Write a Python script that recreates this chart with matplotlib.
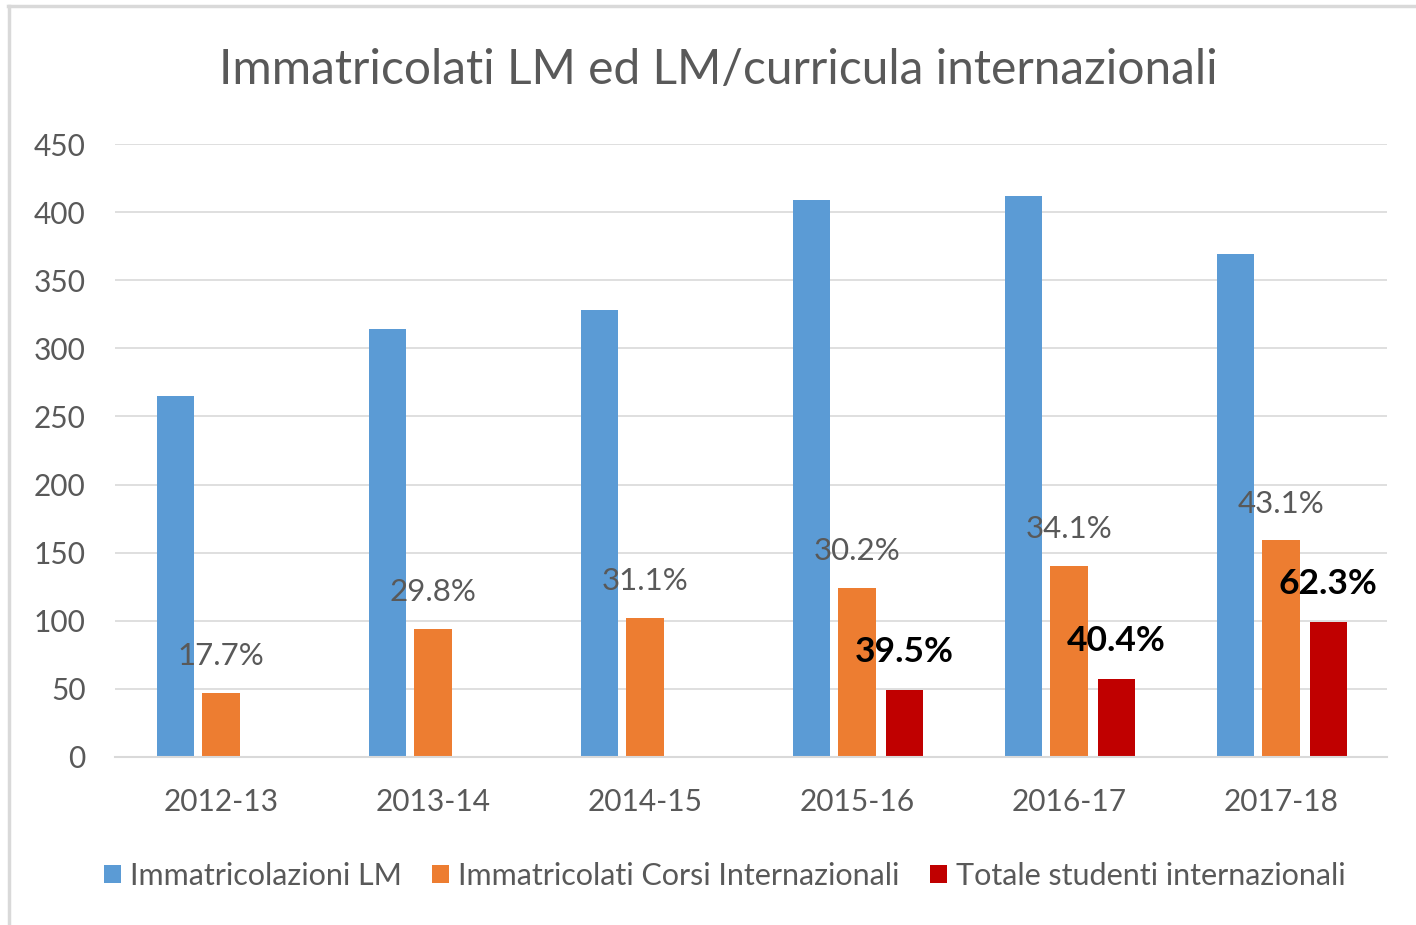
import matplotlib
matplotlib.use("Agg")
import matplotlib.pyplot as plt
from matplotlib.lines import Line2D
import numpy as np

# data
anni = ["2012-13", "2013-14", "2014-15", "2015-16", "2016-17", "2017-18"]
immatricolazioni_lm = [265, 314, 328, 409, 412, 369]
corsi_internazionali = [47, 94, 102, 124, 140, 159]
totale_internazionali = [0, 0, 0, 49, 57, 99]
pct_corsi = ["17.7%", "29.8%", "31.1%", "30.2%", "34.1%", "43.1%"]
pct_totale = [None, None, None, "39.5%", "40.4%", "62.3%"]

c_blue = "#5B9BD5"
c_orange = "#ED7D31"
c_red = "#C00000"
c_text = "#595959"
c_grid = "#D9D9D9"

plt.rcParams["font.family"] = ["Lato", "DejaVu Sans"]

fig = plt.figure(figsize=(14.16, 9.25), dpi=100)
ax = fig.add_axes([115 / 1416, 1 - 757 / 925, 1272 / 1416, 613 / 925])

x = np.arange(len(anni))
off = 0.222
w = 0.175
ax.bar(x - off + 0.008, immatricolazioni_lm, w, color=c_blue, label="Immatricolazioni LM", zorder=2)
ax.bar(x, corsi_internazionali, w, color=c_orange, label="Immatricolati Corsi Internazionali", zorder=2)
ax.bar(x + off, totale_internazionali, w, color=c_red, label="Totale studenti internazionali", zorder=2)

# percentage labels
for i, v in enumerate(corsi_internazionali):
    ax.annotate(pct_corsi[i], (x[i], v), xytext=(0, 26.5), textcoords="offset points",
                ha="center", va="center", fontsize=22.5, color=c_text, zorder=3)
for i, v in enumerate(totale_internazionali):
    if pct_totale[i]:
        ax.annotate(pct_totale[i], (x[i] + off, v), xytext=(0, 27.5), textcoords="offset points",
                    ha="center", va="center", fontsize=25.5, fontweight="bold", color="black", zorder=3)

ax.set_xlim(-0.5, len(anni) - 0.5)
ax.set_ylim(0, 450)
ax.set_yticks(range(0, 451, 50))
ax.set_xticks(x)
ax.set_xticklabels(anni)
ax.tick_params(axis="both", length=0, labelsize=21.5, labelcolor=c_text)
ax.tick_params(axis="x", pad=22)
ax.tick_params(axis="y", pad=21)
ax.grid(axis="y", color=c_grid, linewidth=1.2, zorder=0)
for s in ["top", "right", "left"]:
    ax.spines[s].set_visible(False)
ax.spines["bottom"].set_color(c_grid)
ax.spines["bottom"].set_linewidth(1.5)

fig.text(718 / 1416, 1 - 70 / 925, "Immatricolati LM ed LM/curricula internazionali",
         ha="center", va="center", fontsize=34.5, color=c_text)

fig.legend(loc="center", bbox_to_anchor=(725 / 1416, 1 - 876 / 925), ncol=3, frameon=False,
           fontsize=22, labelcolor=c_text, handlelength=0.55, handleheight=0.55,
           handletextpad=0.3, columnspacing=1.0)

# chart frame
fig.add_artist(Line2D([8 / 1416, 1], [1 - 6 / 925] * 2, color="#D9D9D9", linewidth=2.5))
fig.add_artist(Line2D([9 / 1416] * 2, [0, 1 - 6 / 925], color="#D9D9D9", linewidth=2.5))

fig.savefig("out.png", dpi=100, facecolor="white")
